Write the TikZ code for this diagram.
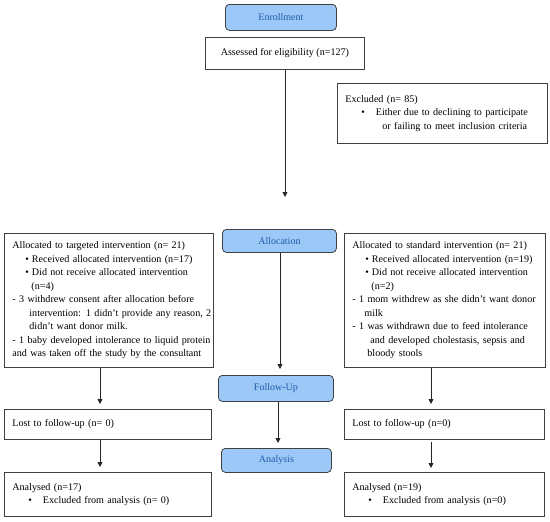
\documentclass[tikz,border=0pt]{standalone}
\usepackage{fontspec}
\setmainfont{Liberation Serif}
\usetikzlibrary{arrows.meta}
\definecolor{hdrfill}{HTML}{9CC8F8}
\definecolor{hdrtext}{HTML}{1F5AA6}
\definecolor{edge}{HTML}{404040}
\tikzset{
  box/.style={draw=edge, line width=0.8pt, fill=white, anchor=north west, align=left,
    inner xsep=8pt, inner ysep=0pt, font=\fontsize{10.1}{13.5}\selectfont},
  hdr/.style={draw=edge, line width=0.8pt, fill=hdrfill, rounded corners=4pt, anchor=north west,
    text=hdrtext, font=\fontsize{10}{12}\selectfont, inner sep=0pt},
  arr/.style={draw=black!85, line width=0.8pt, -{Triangle[width=5pt,length=5pt]}}
}
\newcommand{\ml}[1]{\mbox{#1}}
\newcommand{\bl}{\hspace*{13pt}\textbullet\hspace{3pt}}
\newcommand{\sbl}{\hspace*{16pt}\textbullet\hspace{11pt}}
\begin{document}
\begin{tikzpicture}[x=1pt,y=-1pt]
\useasboundingbox (0,0) rectangle (550,522);
% headers
\node[hdr, minimum width=111pt, minimum height=26pt] (enroll) at (225,4) {Enrollment};
\node[hdr, minimum width=114pt, minimum height=23pt] (alloc) at (222,229) {Allocation};
\node[hdr, minimum width=115pt, minimum height=26pt] (follow) at (218,375) {Follow-Up};
\node[hdr, minimum width=110pt, minimum height=24pt] (analysis) at (221,448) {Analysis};
% boxes
\node[box, align=center, minimum width=159pt, minimum height=32pt] (assess) at (205,37) {Assessed for eligibility (n=127)};
\node[box, minimum width=210pt, minimum height=60pt, text width=194pt] (excl) at (337,83)
 {\ml{Excluded (n= 85)}\\
  \ml{\sbl Either due to declining to participate}\\
  \ml{\hspace*{37pt}or failing to meet inclusion criteria}};
\node[box, minimum width=209pt, minimum height=134pt, text width=193pt] (lalloc) at (4,233)
 {\ml{Allocated to targeted intervention (n= 21)}\\
  \ml{\bl Received allocated intervention (n=17)}\\
  \ml{\bl Did not receive allocated intervention}\\
  \ml{\hspace*{19pt}(n=4)}\\
  \ml{- 3 withdrew consent after allocation before}\\
  \ml{\hspace*{17pt}intervention: 1 didn't provide any reason, 2}\\
  \ml{\hspace*{17pt}didn't want donor milk.}\\
  \ml{- 1 baby developed intolerance to liquid protein}\\
  \ml{and was taken off the study by the consultant}};
\node[box, minimum width=201pt, minimum height=134pt, text width=185pt] (ralloc) at (344,233)
 {\ml{Allocated to standard intervention (n= 21)}\\
  \ml{\bl Received allocated intervention (n=19)}\\
  \ml{\bl Did not receive allocated intervention}\\
  \ml{\hspace*{19pt}(n=2)}\\
  \ml{- 1 mom withdrew as she didn't want donor}\\
  \ml{\hspace*{12pt}milk}\\
  \ml{- 1 was withdrawn due to feed intolerance}\\
  \ml{\hspace*{18pt}and developed cholestasis, sepsis and}\\
  \ml{\hspace*{15pt}bloody stools}};
\node[box, minimum width=207pt, minimum height=30pt, text width=191pt] (llost) at (4,409) {Lost to follow-up (n= 0)};
\node[box, minimum width=200pt, minimum height=30pt, text width=184pt] (rlost) at (344,409) {Lost to follow-up (n=0)};
\node[box, minimum width=207pt, minimum height=44pt, text width=191pt] (lana) at (4,472)
 {\ml{Analysed (n=17)}\\ \ml{\sbl Excluded from analysis (n= 0)}};
\node[box, minimum width=200pt, minimum height=44pt, text width=184pt] (rana) at (344,472)
 {\ml{Analysed (n=19)}\\ \ml{\sbl Excluded from analysis (n=0)}};
% connectors
\coordinate (free) at (285,197);
\draw[arr] (assess.south -| free) -- (free);
\draw[arr, shorten >=6pt] (alloc.south -| 280,0) -- (follow.north -| 280,0);
\draw[arr, shorten >=5pt] (follow.south -| 278,0) -- (analysis.north -| 278,0);
\draw[arr, shorten >=5pt] (lalloc.south -| 100,0) -- (llost.north -| 100,0);
\draw[arr, shorten >=5pt] (llost.south -| 100,0) -- (lana.north -| 100,0);
\draw[arr, shorten >=5pt] (ralloc.south -| 431,0) -- (rlost.north -| 431,0);
\draw[arr, shorten >=4pt, shorten <=2pt] (rlost.south -| 431,0) -- (rana.north -| 431,0);
\end{tikzpicture}
\end{document}
